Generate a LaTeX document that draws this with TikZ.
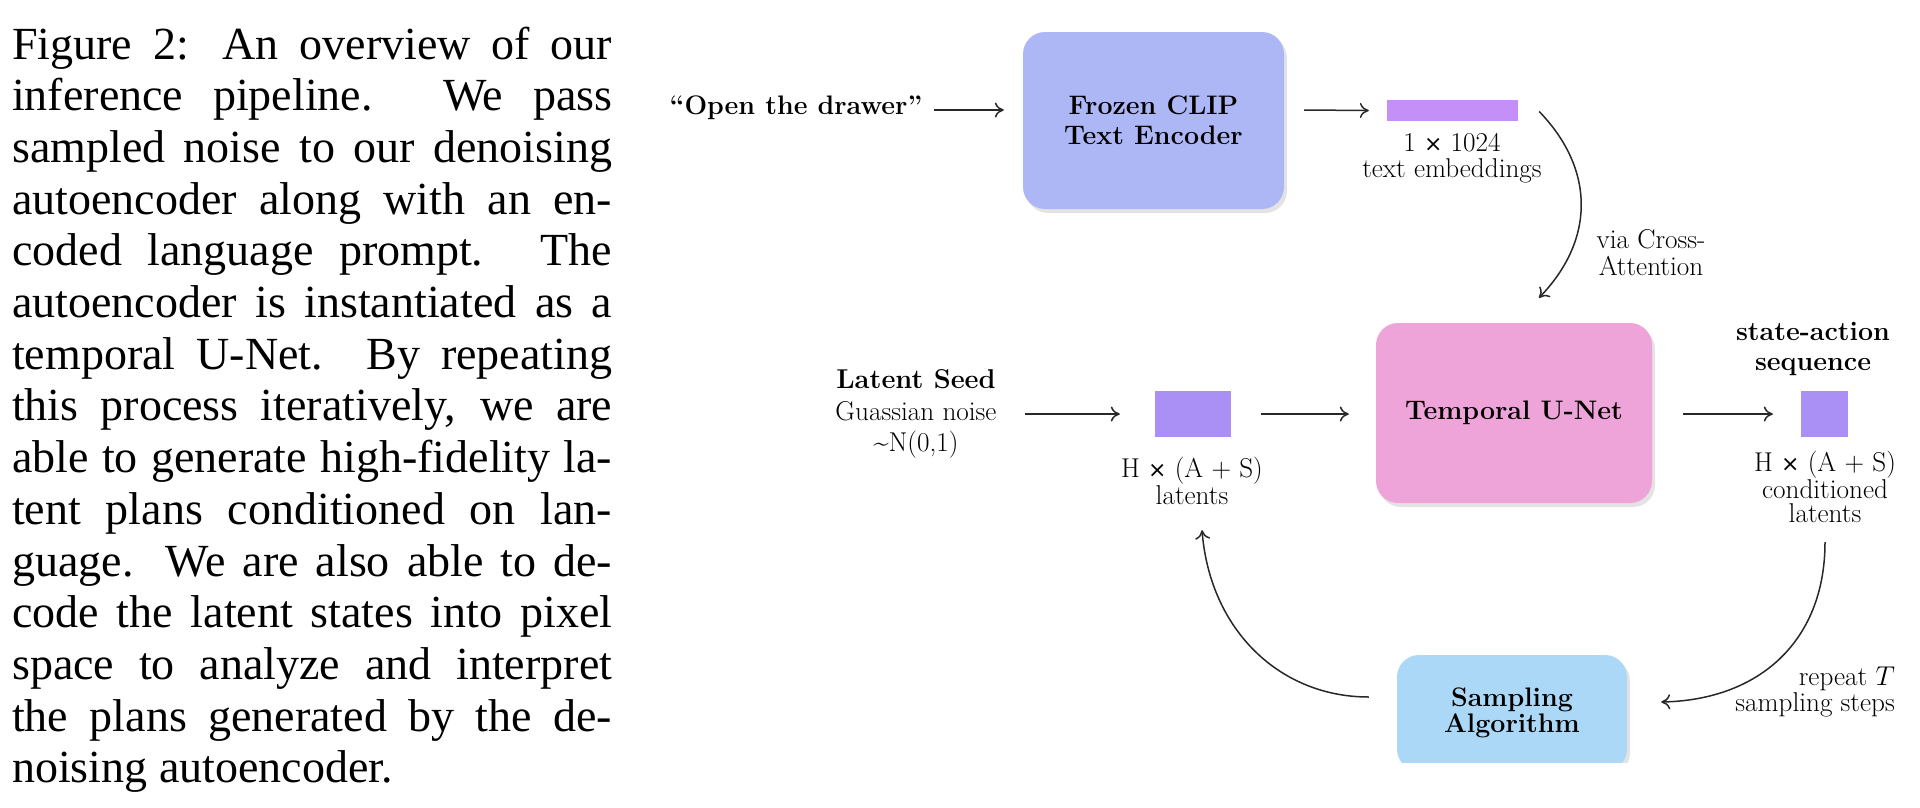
\RequirePackage{fix-cm}
\documentclass[tikz,border=0pt]{standalone}
\usepackage{fontspec}
\newfontfamily\capfont{Liberation Serif}
\newfontfamily\symfont{DejaVu Sans}
\usetikzlibrary{arrows.meta,calc,shadows}
\definecolor{clipc}{RGB}{174,183,246}
\definecolor{unetc}{RGB}{238,164,216}
\definecolor{sampc}{RGB}{172,216,248}
\definecolor{embc}{RGB}{196,144,248}
\definecolor{latc}{RGB}{170,143,245}
\definecolor{linec}{RGB}{40,40,40}
\newcommand{\dtimes}{{\symfont\fontsize{22}{22}\selectfont ×}}
\begin{document}
\begin{tikzpicture}[x=1pt,y=-1pt,
  block/.style={rounded corners=22pt, inner sep=0pt, align=center,
    font=\fontsize{26.8}{30}\selectfont\bfseries,
    drop shadow={shadow xshift=3pt,shadow yshift=-4pt,opacity=0.22}},
  lab/.style={align=center, inner sep=0pt, font=\fontsize{27.2}{24.5}\selectfont},
  bfl/.style={align=center, inner sep=0pt, font=\fontsize{26.8}{30}\selectfont\bfseries},
  vec/.style={inner sep=0pt},
  arr/.style={-{Computer Modern Rightarrow[length=9pt,width=15pt]}, line width=1.5pt, draw=linec},
  capline/.style={anchor=base west, inner sep=0pt, font=\capfont\fontsize{46}{51.7}\selectfont}
]
\useasboundingbox (0,0) rectangle (1920,807);

% ---------- caption ----------
\node[capline] (c1) at (12,59) {\makebox[600pt][s]{Figure 2:  An overview of our}};
\node[capline] (c2) at (12,110.7) {\makebox[600pt][s]{inference pipeline.  We pass}};
\node[capline] (c3) at (12,162.4) {\makebox[600pt][s]{sampled noise to our denoising}};
\node[capline] (c4) at (12,214.1) {\makebox[600pt][s]{autoencoder along with an en-}};
\node[capline] (c5) at (12,265.8) {\makebox[600pt][s]{coded language prompt.  The}};
\node[capline] (c6) at (12,317.5) {\makebox[600pt][s]{autoencoder is instantiated as a}};
\node[capline] (c7) at (12,369.2) {\makebox[600pt][s]{temporal U-Net.  By repeating}};
\node[capline] (c8) at (12,420.9) {\makebox[600pt][s]{this process iteratively, we are}};
\node[capline] (c9) at (12,472.6) {\makebox[600pt][s]{able to generate high-fidelity la-}};
\node[capline] (c10) at (12,524.3) {\makebox[600pt][s]{tent plans conditioned on lan-}};
\node[capline] (c11) at (12,576) {\makebox[600pt][s]{guage.  We are also able to de-}};
\node[capline] (c12) at (12,627.7) {\makebox[600pt][s]{code the latent states into pixel}};
\node[capline] (c13) at (12,679.4) {\makebox[600pt][s]{space to analyze and interpret}};
\node[capline] (c14) at (12,731.1) {\makebox[600pt][s]{the plans generated by the de-}};
\node[capline] (c15) at (12,782.8) {noising autoencoder.};

% ---------- top row ----------
\node[bfl] (prompt) at (796,108) {``Open the drawer''};
\node[block, fill=clipc, minimum width=261pt, minimum height=177pt] (clip) at (1153.5,120.5) {Frozen CLIP\\Text Encoder};
\node[vec, fill=embc, minimum width=131pt, minimum height=21pt] (emb) at (1452.5,110.5) {};
\node[lab, font=\fontsize{27.2}{26}\selectfont] (emblab) at (1452,158) {1 \dtimes{} 1024\\text embeddings};
\node[lab, font=\fontsize{27.2}{27}\selectfont] (ca) at (1651,253) {via Cross-\\Attention};

% ---------- middle row ----------
\node[align=center, inner sep=0pt, font=\fontsize{27.2}{31.5}\selectfont] (seed) at (916,414) {\textbf{Latent Seed}\\Guassian noise\\\textasciitilde N(0,1)};
\node[vec, fill=latc, minimum width=76pt, minimum height=46pt] (lat) at (1193,414) {};
\node[lab] (latlab) at (1192,481) {H \dtimes{} (A $+$ S)\\latents};
\node[block, fill=unetc, minimum width=276pt, minimum height=180pt] (unet) at (1514,413) {Temporal U-Net};
\node[vec, fill=latc, minimum width=47pt, minimum height=46pt] (out) at (1824.5,414) {};
\node[bfl] (seq) at (1813,349) {state-action\\sequence};
\node[lab] (outlab) at (1825,487) {H \dtimes{} (A $+$ S)\\conditioned\\latents};

% ---------- bottom ----------
\begin{scope}
\clip (1300,600) rectangle (1720,762);
\node[block, fill=sampc, minimum width=230pt, minimum height=116pt, font=\fontsize{26.8}{26}\selectfont\bfseries] (samp) at (1512,713) {Sampling\\Algorithm};
\end{scope}
\node[lab, font=\fontsize{27.2}{26}\selectfont, align=right, anchor=east] (rep) at (1895,692) {repeat $T$\\sampling steps};

% ---------- connectors ----------
\draw[arr] ($(prompt.east)+(12,2)$) -- ($(prompt.east -| clip.west)+(-19,2)$);
\draw[arr] ($(clip.east)+(20,-10.5)$) -- ($(emb.west)+(-18,0)$);
\draw[arr] ($(emb.east)+(21,1)$) .. controls +(56,58) and +(56,-58) .. ($(unet.north)+(25,-25)$);
\draw[arr] ($(seed.east)+(28,0)$) -- ($(lat.west)+(-35,0)$);
\draw[arr] ($(lat.east)+(30,0)$) -- ($(unet.west)+(-27,1)$);
\draw[arr] ($(unet.east)+(31,1)$) -- ($(out.west)+(-28,0)$);
\draw[arr] ($(out.south)+(0.5,105)$) .. controls +(0,98) and +(99,-2) .. ($(samp.east)+(34,-11)$);
\draw[arr] ($(samp.west)+(-28,-16)$) .. controls +(-89,0) and +(8,100) .. ($(lat.south)+(9,93)$);
\end{tikzpicture}
\end{document}
